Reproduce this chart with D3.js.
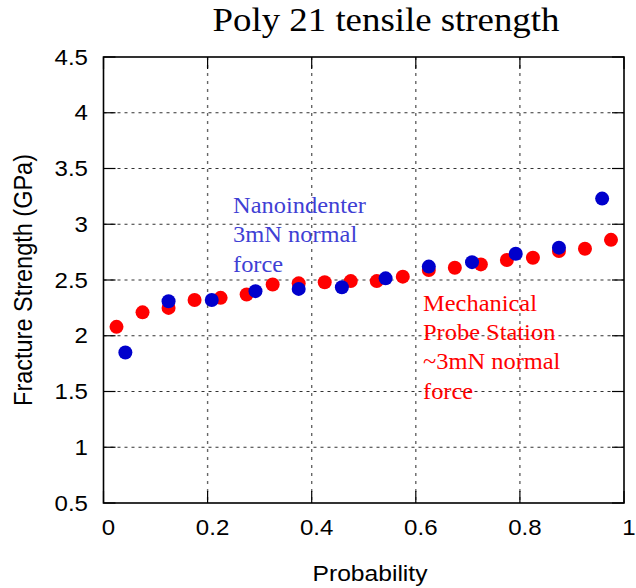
<!DOCTYPE html>
<html>
<head>
<meta charset="utf-8">
<script src="https://cdn.jsdelivr.net/npm/d3@7"></script>
<style>
  body { margin: 0; background: #fff; }
  svg { display: block; }
</style>
</head>
<body>
<svg id="chart" width="636" height="588"></svg>
<script>
// mechanical probe station (red)
var probeX = [0.025, 0.075, 0.125, 0.175, 0.225, 0.275, 0.325, 0.375, 0.425, 0.475,
              0.525, 0.575, 0.625, 0.675, 0.725, 0.775, 0.825, 0.875, 0.925, 0.975];
var probeY = [2.08, 2.21, 2.25, 2.32, 2.34, 2.37, 2.46, 2.47, 2.48, 2.49,
              2.49, 2.53, 2.59, 2.61, 2.64, 2.68, 2.70, 2.76, 2.78, 2.86];
// nanoindenter (blue)
var nanoX = [0.042, 0.125, 0.208, 0.292, 0.375, 0.458, 0.542, 0.625, 0.708, 0.792, 0.875, 0.958];
var nanoY = [1.85, 2.31, 2.32, 2.40, 2.42, 2.435, 2.515, 2.62, 2.66, 2.735, 2.79, 3.23];

var xTicks = [0, 0.2, 0.4, 0.6, 0.8, 1];
var yTicks = [0.5, 1, 1.5, 2, 2.5, 3, 3.5, 4, 4.5];
var nanoLabel = ["Nanoindenter", "3mN normal", "force"];
var probeLabel = ["Mechanical", "Probe Station", "~3mN normal", "force"];

var svg = d3.select("#chart");
var m = {left: 103.5, right: 624, top: 57, bottom: 503};

var x = d3.scaleLinear().domain([0, 1]).range([m.left, m.right]);
var y = d3.scaleLinear().domain([0.5, 4.5]).range([m.bottom, m.top]);

// the original text is a little wide, so squeeze it back with a horizontal scale
var stretchText = function(sel, px, py, sx) {
  sel.attr("transform", "translate(" + px + "," + py + ") scale(" + (sx || 1.12) + ",1)");
}

// grid
svg.append("g").selectAll("line").data(yTicks.slice(1, -1)).join("line")
  .attr("x1", m.left).attr("x2", m.right)
  .attr("y1", function(d) { return y(d); }).attr("y2", function(d) { return y(d); })
  .attr("stroke", "#333").attr("stroke-width", 1.2).attr("stroke-dasharray", "3,4");
svg.append("g").selectAll("line").data(xTicks.slice(1, -1)).join("line")
  .attr("y1", m.top).attr("y2", m.bottom)
  .attr("x1", function(d) { return x(d); }).attr("x2", function(d) { return x(d); })
  .attr("stroke", "#666").attr("stroke-width", 1.4).attr("stroke-dasharray", "3,5");

// inward ticks on all four sides
var tl = 12;
var ticks = svg.append("g").attr("stroke", "#000").attr("stroke-width", 1.2);
yTicks.forEach(function(d) {
  ticks.append("line").attr("x1", m.left).attr("x2", m.left + tl).attr("y1", y(d)).attr("y2", y(d));
  ticks.append("line").attr("x1", m.right - tl).attr("x2", m.right).attr("y1", y(d)).attr("y2", y(d));
});
xTicks.forEach(function(d) {
  ticks.append("line").attr("y1", m.bottom).attr("y2", m.bottom - tl).attr("x1", x(d)).attr("x2", x(d));
  ticks.append("line").attr("y1", m.top).attr("y2", m.top + tl).attr("x1", x(d)).attr("x2", x(d));
});

// frame
svg.append("rect")
  .attr("x", m.left).attr("y", m.top)
  .attr("width", m.right - m.left).attr("height", m.bottom - m.top)
  .attr("fill", "none").attr("stroke", "#000").attr("stroke-width", 1.6);

// tick labels
var sans = "'Liberation Sans', Arial, sans-serif";
var serif = "'Liberation Serif', 'Times New Roman', serif";
svg.append("g").selectAll("text").data(yTicks).join("text")
  .attr("text-anchor", "end").attr("font-family", sans).attr("font-size", 21.5)
  .attr("dy", "0.35em")
  .each(function(d) { stretchText(d3.select(this), 88, y(d)); })
  .text(function(d) { return d; });
svg.append("g").selectAll("text").data(xTicks).join("text")
  .attr("text-anchor", "middle").attr("font-family", sans).attr("font-size", 21.5)
  .each(function(d) { stretchText(d3.select(this), x(d) + 5, 535); })
  .text(function(d) { return d; });

// axis titles
svg.append("text")
  .attr("text-anchor", "middle").attr("font-family", sans).attr("font-size", 22)
  .call(stretchText, 370, 581)
  .text("Probability");
svg.append("text")
  .attr("text-anchor", "middle").attr("font-family", sans).attr("font-size", 23.5)
  .attr("transform", "translate(32,280) scale(1.12,1) rotate(-90)")
  .text("Fracture Strength (GPa)");

// title
svg.append("text")
  .attr("text-anchor", "middle").attr("font-family", serif).attr("font-size", 33.5)
  .call(stretchText, 386, 31, 1.1)
  .text("Poly 21 tensile strength");

// points
svg.append("g").selectAll("circle").data(probeX).join("circle")
  .attr("cx", function(d) { return x(d); })
  .attr("cy", function(d, i) { return y(probeY[i]); })
  .attr("r", 7).attr("fill", "#ff0000");
svg.append("g").selectAll("circle").data(nanoX).join("circle")
  .attr("cx", function(d) { return x(d); })
  .attr("cy", function(d, i) { return y(nanoY[i]); })
  .attr("r", 7).attr("fill", "#0000cc");

// annotations
svg.append("g").selectAll("text").data(nanoLabel).join("text")
  .attr("font-family", serif).attr("font-size", 23.5).attr("fill", "#3f3fd4")
  .each(function(d, i) { stretchText(d3.select(this), 233, 213 + i * 29.3, 1.04); })
  .text(function(d) { return d; });
svg.append("g").selectAll("text").data(probeLabel).join("text")
  .attr("font-family", serif).attr("font-size", 23.5).attr("fill", "#ff0000")
  .each(function(d, i) { stretchText(d3.select(this), 423, 311 + i * 29.2, 1.04); })
  .text(function(d) { return d; });
</script>
</body>
</html>
